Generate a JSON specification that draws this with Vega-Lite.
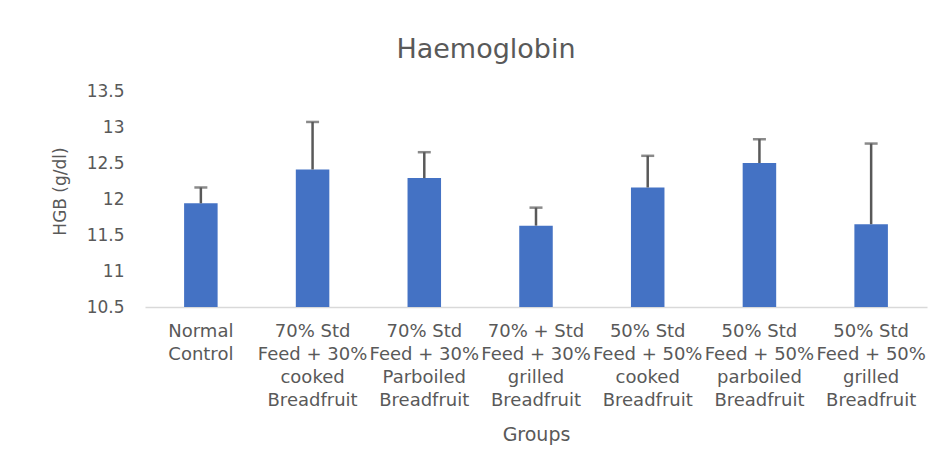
{
  "$schema": "https://vega.github.io/schema/vega-lite/v6.json",
  "width": 782,
  "height": 216,
  "autosize": {"type": "none"},
  "padding": {"left": 145, "top": 91, "right": 16, "bottom": 156},
  "background": "white",
  "title": {
    "text": "Haemoglobin",
    "font": "DejaVu Sans",
    "fontSize": 27,
    "fontWeight": "normal",
    "color": "#595959",
    "anchor": "middle",
    "dx": -50,
    "dy": 37,
    "baseline": "alphabetic",
    "offset": 34
  },
  "config": {
    "view": {"stroke": null},
    "axis": {"labelFont": "DejaVu Sans", "titleFont": "DejaVu Sans", "labelColor": "#595959", "titleColor": "#595959", "titleFontWeight": "normal"},
    "axisY": {"labelOverlap": false, "labelFlush": false, "ticks": false, "domain": false, "grid": false, "labelFontSize": 17, "labelPadding": 21}
  },
  "data": {
    "values": [
      {"group": "Normal|Control", "hgb": 11.94, "upper": 12.16},
      {"group": "70% Std|Feed + 30%|cooked|Breadfruit", "hgb": 12.41, "upper": 13.07},
      {"group": "70% Std|Feed + 30%|Parboiled|Breadfruit", "hgb": 12.29, "upper": 12.65},
      {"group": "70% + Std|Feed + 30%|grilled|Breadfruit", "hgb": 11.63, "upper": 11.88},
      {"group": "50% Std|Feed + 50%|cooked|Breadfruit", "hgb": 12.16, "upper": 12.60},
      {"group": "50% Std|Feed + 50%|parboiled|Breadfruit", "hgb": 12.50, "upper": 12.83},
      {"group": "50% Std|Feed + 50%|grilled|Breadfruit", "hgb": 11.65, "upper": 12.77}
    ]
  },
  "encoding": {
    "x": {
      "field": "group",
      "type": "nominal",
      "sort": null,
      "scale": {"paddingInner": 0.7, "paddingOuter": 0.35},
      "axis": {
        "title": "Groups",
        "titleFontSize": 19,
        "titleY": 133,
        "titleBaseline": "alphabetic",
        "labelExpr": "split(datum.label, '|')",
        "labelAngle": 0,
        "labelFontSize": 18,
        "labelLineHeight": 23.3,
        "labelPadding": 15,
        "labelBaseline": "top",
        "labelOverlap": false,
        "labelLimit": 0,
        "ticks": false,
        "domainColor": "#d9d9d9",
        "domainWidth": 1.5
      }
    },
    "y": {
      "field": "hgb",
      "type": "quantitative",
      "scale": {"domain": [10.5, 13.5], "zero": false, "nice": false},
      "axis": {
        "title": "HGB (g/dl)",
        "titleFontSize": 17,
        "titleX": -76,
        "titleY": 100,
        "values": [10.5, 11, 11.5, 12, 12.5, 13, 13.5],
        "labelExpr": "datum.value"
      }
    }
  },
  "layer": [
    {
      "mark": {"type": "bar", "color": "#4472C4"},
      "encoding": {
        "y2": {"datum": 10.5}
      }
    },
    {
      "mark": {"type": "rule", "color": "#595959", "strokeWidth": 2.5},
      "encoding": {
        "y2": {"field": "upper"}
      }
    },
    {
      "mark": {"type": "tick", "color": "#595959", "thickness": 2.5, "size": 13},
      "encoding": {
        "y": {"field": "upper", "type": "quantitative", "title": "HGB (g/dl)"}
      }
    }
  ]
}
